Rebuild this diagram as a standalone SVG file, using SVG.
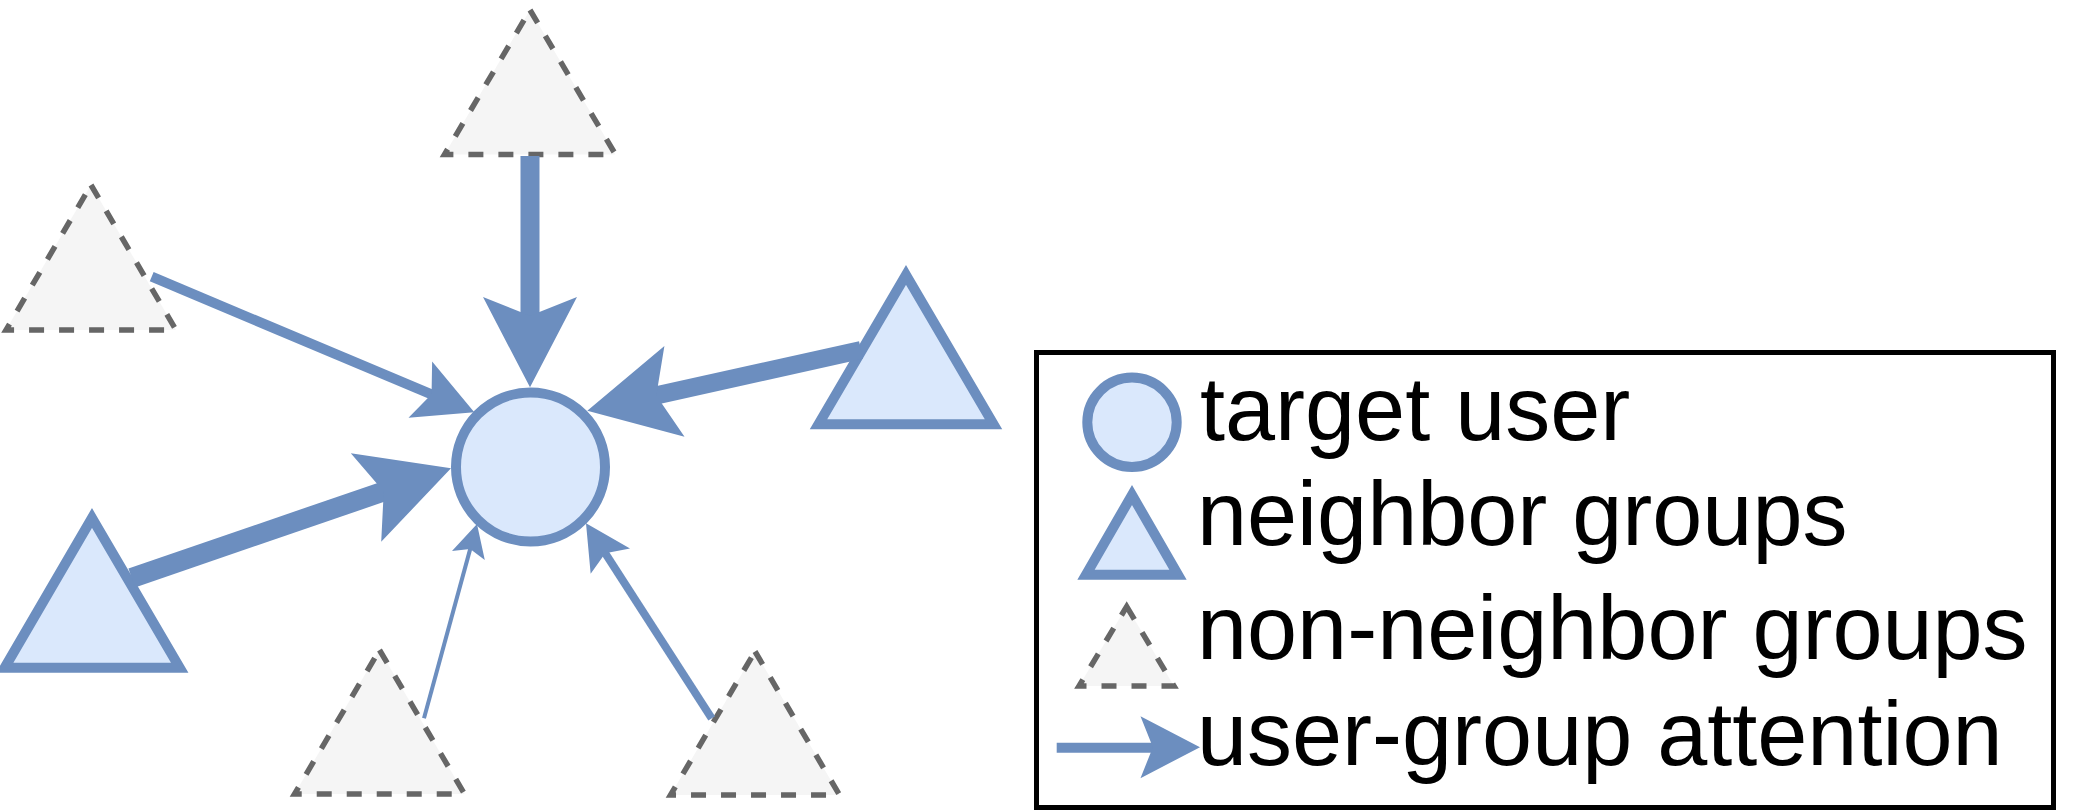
<svg xmlns="http://www.w3.org/2000/svg" width="2080" height="810" viewBox="0 0 2080 810">
<style>
.user{fill:#dae8fc;stroke:#6c8ebf;stroke-width:10}
.nb{fill:#dae8fc;stroke:#6c8ebf;stroke-width:10;stroke-linejoin:miter}
.nn{fill:#f5f5f5;stroke:#666666;stroke-width:5.5;stroke-dasharray:15 15;stroke-linejoin:miter}
.edge{stroke:#6c8ebf;fill:none;stroke-linecap:butt}
.head{fill:#6c8ebf;stroke:none}
.lbl{font-family:"Liberation Sans",Arial,sans-serif;font-size:90px;fill:#000000}
.box{fill:#ffffff;stroke:#000000;stroke-width:5}
</style>
<defs>
<path id="ah" d="M0,0 L-1.92,-1 L-1.52,0 L-1.92,1 Z"/>
</defs>
<rect width="2080" height="810" fill="#ffffff"/>

<g id="target-user"><circle class="user" cx="530.5" cy="467" r="74.5"/></g>
<g id="group-top"><polygon class="nn" points="530,10 615.5,154.5 444.5,154.5"/></g>
<g id="group-upper-left"><polygon class="nn" points="91,185 176,330 6,330"/></g>
<g id="group-right"><polygon class="nb" points="906,275 993.5,424.3 818.5,424.3"/></g>
<g id="group-left"><polygon class="nb" points="92,518 179.7,667.7 4.7,667.7"/></g>
<g id="group-bottom-middle"><polygon class="nn" points="379.5,650 464.5,794 294.5,794"/></g>
<g id="group-bottom-right"><polygon class="nn" points="755,651.5 839.5,795 670.5,795"/></g>

<g id="connectors">
<line class="edge" x1="530" y1="156" x2="530" y2="320" stroke-width="19"/>
<use href="#ah" class="head" transform="translate(530,387.3) rotate(90) scale(47)"/>
<line class="edge" x1="151.7" y1="276.7" x2="432.1" y2="394.6" stroke-width="10"/>
<use href="#ah" class="head" transform="translate(474.3,412.3) rotate(22.8) scale(30.5)"/>
<line class="edge" x1="861" y1="350" x2="655.4" y2="395.6" stroke-width="18"/>
<use href="#ah" class="head" transform="translate(587.3,410.7) rotate(167.5) scale(46.5)"/>
<line class="edge" x1="131.7" y1="578" x2="384.6" y2="491.1" stroke-width="20"/>
<use href="#ah" class="head" transform="translate(451,468.3) rotate(-18.96) scale(46.8)"/>
<line class="edge" x1="424" y1="718.3" x2="470.3" y2="548.6" stroke-width="4"/>
<use href="#ah" class="head" transform="translate(477,524) rotate(-74.7) scale(17)"/>
<line class="edge" x1="711.7" y1="718.3" x2="605" y2="552.8" stroke-width="8"/>
<use href="#ah" class="head" transform="translate(586,523.3) rotate(-122.8) scale(23.4)"/>
</g>

<g id="legend">
<rect class="box" x="1036.5" y="352.5" width="1017" height="455"/>
<circle class="user" cx="1132" cy="422.3" r="44.7"/>
<polygon class="nb" points="1132,495 1178,574.7 1086,574.7"/>
<polygon class="nn" points="1126.7,606.5 1174,686 1079,686"/>
<line class="edge" x1="1056.7" y1="747.7" x2="1153" y2="747.7" stroke-width="10"/>
<use href="#ah" class="head" transform="translate(1200,747.2) rotate(0) scale(31)"/>
<text class="lbl" x="1200" y="440">target user</text>
<text class="lbl" x="1197" y="545">neighbor groups</text>
<text class="lbl" x="1197" y="659">non-neighbor groups</text>
<text class="lbl" x="1197" y="765">user-group attention</text>
</g>
</svg>
